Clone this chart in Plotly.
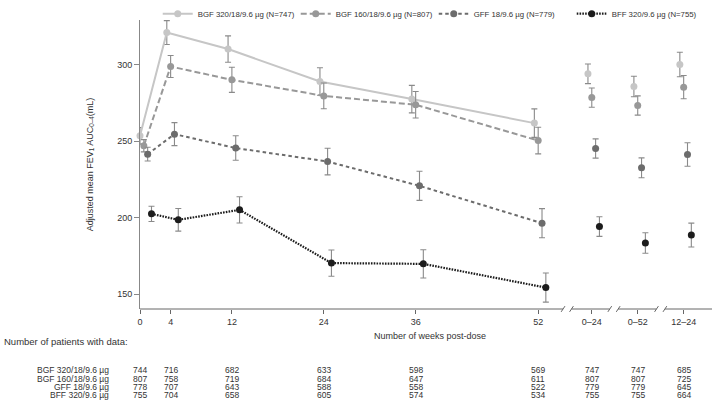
import plotly.graph_objects as go

# ---------------- data ----------------
weeks = [0, 4, 12, 24, 36, 52]
summary_labels = ["0–24", "0–52", "12–24"]
summary_pos = [59, 65, 71]          # axis positions for summary categories
tick_pos = weeks + summary_pos
tick_text = [str(w) for w in weeks] + summary_labels

series_names = [
    "BGF 320/18/9.6 µg (N=747)",
    "BGF 160/18/9.6 µg (N=807)",
    "GFF 18/9.6 µg (N=779)",
    "BFF 320/9.6 µg (N=755)",
]
table_labels = ["BGF 320/18/9.6 µg", "BGF 160/18/9.6 µg", "GFF 18/9.6 µg", "BFF 320/9.6 µg"]

bgf320_time = [253.4, 320.9, 310.1, 288.9, 277.4, 261.7]
bgf320_time_err = [5.4, 7.8, 8.6, 9.0, 9.0, 9.3]
bgf320_sum = [293.9, 285.6, 300.0]
bgf320_sum_err = [6.4, 6.7, 8.0]

bgf160_time = [246.9, 298.7, 290.0, 279.5, 273.7, 250.3]
bgf160_time_err = [4.0, 7.2, 8.2, 8.4, 8.7, 8.7]
bgf160_sum = [278.4, 273.2, 285.2]
bgf160_sum_err = [6.3, 6.3, 7.6]

gff_time = [241.4, 254.5, 245.4, 236.6, 220.7, 196.3]
gff_time_err = [4.5, 7.5, 8.0, 8.7, 9.5, 9.5]
gff_sum = [245.1, 232.5, 241.2]
gff_sum_err = [6.3, 6.5, 7.7]

bff_time = [202.4, 198.5, 205.0, 170.2, 169.7, 154.2]
bff_time_err = [5.0, 7.4, 8.6, 8.6, 9.2, 9.5]
bff_sum = [194.1, 183.3, 188.5]
bff_sum_err = [6.4, 6.7, 7.8]

n_bgf320 = [744, 716, 682, 633, 598, 569, 747, 747, 685]
n_bgf160 = [807, 758, 719, 684, 647, 611, 807, 807, 725]
n_gff = [778, 707, 643, 588, 558, 522, 779, 779, 645]
n_bff = [755, 704, 658, 605, 574, 534, 755, 755, 664]

# ---------------- styles ----------------
colors = ["#c6c6c6", "#989898", "#6c6c6c", "#1c1c1c"]
dashes = ["solid", "6px,3px", "3.5px,3px", "1.6px,1.2px"]
widths = [2, 2, 2, 2.2]
dodge = [-0.5, 0.0, 0.5, 1.0]
zero_shift = 0.5
err_color = "#8a8a8a"

time_vals = [bgf320_time, bgf160_time, gff_time, bff_time]
time_errs = [bgf320_time_err, bgf160_time_err, gff_time_err, bff_time_err]
sum_vals = [bgf320_sum, bgf160_sum, gff_sum, bff_sum]
sum_errs = [bgf320_sum_err, bgf160_sum_err, gff_sum_err, bff_sum_err]
n_tables = [n_bgf320, n_bgf160, n_gff, n_bff]

fig = go.Figure()
for i in range(4):
    xs = [w + dodge[i] + (zero_shift if w == 0 else 0) for w in weeks]
    fig.add_trace(go.Scatter(
        x=xs, y=time_vals[i], mode="lines+markers", name=series_names[i],
        line=dict(color=colors[i], width=widths[i], dash=dashes[i]),
        marker=dict(color=colors[i], size=7),
        error_y=dict(type="data", array=time_errs[i], color=err_color, thickness=1.1, width=3),
        cliponaxis=False,
    ))
for i in range(4):
    xs = [p + dodge[i] for p in summary_pos]
    fig.add_trace(go.Scatter(
        x=xs, y=sum_vals[i], mode="markers", showlegend=False,
        marker=dict(color=colors[i], size=7),
        error_y=dict(type="data", array=sum_errs[i], color=err_color, thickness=1.1, width=3),
        cliponaxis=False,
    ))

XMAX = 74.7
# broken x-axis line
breaks = [(weeks[-1] + summary_pos[0]) / 2 + 0.3,
          (summary_pos[0] + summary_pos[1]) / 2 - 0.1,
          (summary_pos[1] + summary_pos[2]) / 2]
half_gap = 0.55
bounds = [0]
for b in breaks:
    bounds += [b - half_gap, b + half_gap]
bounds.append(XMAX)
shapes = []
axis_col = "#666666"
for k in range(0, len(bounds), 2):
    shapes.append(dict(type="line", xref="x", yref="paper", x0=bounds[k], x1=bounds[k + 1],
                       y0=0, y1=0, line=dict(color=axis_col, width=1)))
for b in breaks:
    for c in (b - half_gap, b + half_gap):
        shapes.append(dict(type="line", xref="x", yref="paper", x0=c - 0.25, x1=c + 0.25,
                           y0=-0.010, y1=0.010, line=dict(color=axis_col, width=1)))

annotations = []
txt_col = "#333333"
annotations.append(dict(text="Number of weeks post-dose", xref="paper", yref="paper",
                        x=0.507, y=-0.095, showarrow=False, xanchor="center", yanchor="middle",
                        font=dict(size=9, color=txt_col)))
annotations.append(dict(text="Number of patients with data:", xref="paper", yref="paper",
                        x=-0.241, y=-0.113, showarrow=False, xanchor="left", yanchor="middle",
                        font=dict(size=9.5, color=txt_col)))
row_y = [-0.212, -0.241, -0.269, -0.298]
for i in range(4):
    annotations.append(dict(text=table_labels[i], xref="paper", yref="paper",
                            x=-0.0524, y=row_y[i], showarrow=False, xanchor="right", yanchor="middle",
                            font=dict(size=8.5, color=txt_col), borderpad=0))
    for p, n in zip(tick_pos, n_tables[i]):
        annotations.append(dict(text=str(n), xref="x", yref="paper", x=p, y=row_y[i],
                                showarrow=False, xanchor="center", yanchor="middle",
                                font=dict(size=8.5, color=txt_col), borderpad=0))

fig.update_layout(
    width=724, height=414,
    margin=dict(l=140, r=12, t=20, b=105, autoexpand=False),
    paper_bgcolor="white", plot_bgcolor="white",
    font=dict(family="Liberation Sans, Arial, sans-serif", size=9, color=txt_col),
    showlegend=True,
    legend=dict(orientation="h", x=0.031, xanchor="left", y=1.022, yanchor="middle",
                font=dict(size=7.8, color=txt_col), itemwidth=30, bgcolor="rgba(0,0,0,0)",
                tracegroupgap=0, entrywidth=93, entrywidthmode="pixels"),
    xaxis=dict(range=[0, XMAX], tickvals=tick_pos, ticktext=tick_text, ticks="outside",
               ticklen=4, tickcolor=axis_col, showline=False, showgrid=False, zeroline=False,
               tickfont=dict(size=9, color=txt_col)),
    yaxis=dict(range=[140.2, 329.1], tickvals=[150, 200, 250, 300], ticks="outside",
               ticklen=5, tickcolor="#888888", showline=True, linecolor="#888888", linewidth=1,
               showgrid=False, zeroline=False, tickfont=dict(size=9, color=txt_col),
               title=dict(text="Adjusted mean FEV<sub>1</sub> AUC<sub>0–4</sub>(mL)",
                          font=dict(size=9, color=txt_col), standoff=22)),
    shapes=shapes, annotations=annotations,
)

fig.write_html("out.html", config={"displayModeBar": False},
               post_script="document.body.style.margin='0';")
